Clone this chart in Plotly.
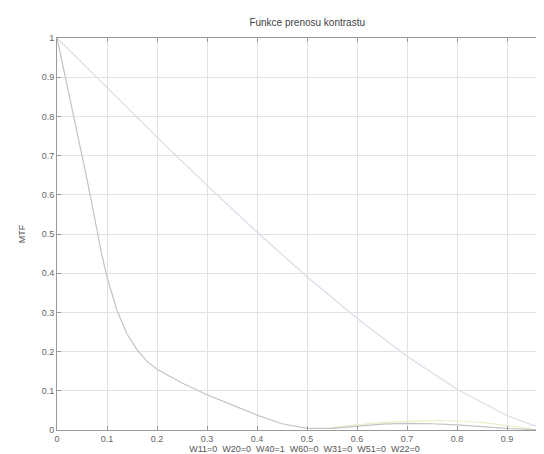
import plotly.graph_objects as go

# Spatial frequency samples (normalized)
freq_diff = [0.0, 0.1, 0.2, 0.3, 0.4, 0.5, 0.6, 0.7, 0.8, 0.9, 0.95, 0.99]
mtf_diff = [1.0, 0.873, 0.747, 0.624, 0.505, 0.391, 0.285, 0.188, 0.104, 0.037, 0.013, 0.001]

freq_aber = [0.0, 0.02, 0.04, 0.06, 0.08, 0.09, 0.1, 0.11, 0.12, 0.14, 0.16, 0.18, 0.2, 0.25, 0.3,
             0.35, 0.4, 0.45, 0.5, 0.55, 0.6, 0.65, 0.7, 0.75, 0.8, 0.85, 0.9, 0.95, 0.99]
mtf_aber = [1.0, 0.88, 0.765, 0.64, 0.51, 0.445, 0.39, 0.345, 0.305, 0.245, 0.205, 0.175, 0.155, 0.12, 0.09,
            0.064, 0.038, 0.016, 0.004, 0.004, 0.01, 0.015, 0.017, 0.016, 0.013, 0.008, 0.004, 0.001, 0.0]

freq_y = [0.55, 0.6, 0.65, 0.7, 0.75, 0.8, 0.85, 0.9, 0.95]
mtf_y = [0.006, 0.013, 0.019, 0.022, 0.024, 0.023, 0.019, 0.011, 0.003]

x_ticks = [0, 0.1, 0.2, 0.3, 0.4, 0.5, 0.6, 0.7, 0.8, 0.9]
x_ticktext = ["0", "0.1", "0.2", "0.3", "0.4", "0.5", "0.6", "0.7", "0.8", "0.9"]
y_ticks = [0, 0.1, 0.2, 0.3, 0.4, 0.5, 0.6, 0.7, 0.8, 0.9, 1]
y_ticktext = ["0", "0.1", "0.2", "0.3", "0.4", "0.5", "0.6", "0.7", "0.8", "0.9", "1"]

title_text = "Funkce prenosu kontrastu"
x_title = "W11=0  W20=0  W40=1  W60=0  W31=0  W51=0  W22=0"
y_title = "MTF"

font_family = "Liberation Sans, Arial, sans-serif"

fig = go.Figure()
fig.add_trace(go.Scatter(x=freq_diff, y=mtf_diff, mode="lines",
                         line=dict(color="#dcdce8", width=1.2), showlegend=False))
fig.add_trace(go.Scatter(x=freq_y, y=mtf_y, mode="lines", line_shape="spline",
                         line=dict(color="#eeeec8", width=1.2), showlegend=False))
fig.add_trace(go.Scatter(x=freq_aber, y=mtf_aber, mode="lines",
                         line=dict(color="#c4c4c4", width=1.2), showlegend=False))

fig.update_layout(
    width=544, height=454,
    margin=dict(l=49, r=0, t=30, b=32),
    paper_bgcolor="white", plot_bgcolor="white",
    font=dict(family=font_family, size=9, color="#555"),
    title=dict(text=title_text, x=0.55, xanchor="center", y=1 - 14 / 454, yanchor="middle",
               font=dict(size=10, color="#444")),
    xaxis=dict(range=[0, 0.99], tickvals=x_ticks, ticktext=x_ticktext,
               showgrid=True, gridcolor="#e2e2e2", gridwidth=1,
               showline=True, linecolor="#9a9a9a", linewidth=1, mirror="ticks",
               ticks="inside", ticklen=4, tickcolor="#9a9a9a",
               zeroline=False, tickfont=dict(size=9, color="#666"),
               title=dict(text=x_title, font=dict(size=9, color="#555"), standoff=2)),
    yaxis=dict(range=[0, 1], tickvals=y_ticks, ticktext=y_ticktext,
               showgrid=True, gridcolor="#e2e2e2", gridwidth=1,
               showline=True, linecolor="#9a9a9a", linewidth=1,
               ticks="inside", ticklen=4, tickcolor="#9a9a9a",
               zeroline=False, tickfont=dict(size=9, color="#666"),
               title=dict(text=y_title, font=dict(size=9, color="#555"), standoff=14)),
)

fig.write_html("out.html")
